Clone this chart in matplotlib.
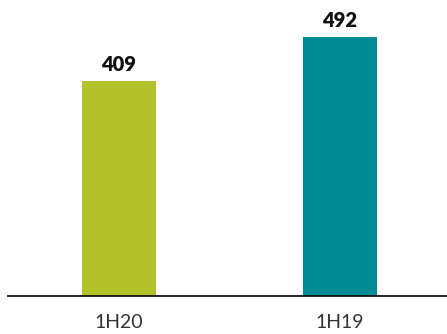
import matplotlib
matplotlib.use("Agg")
import matplotlib.pyplot as plt

categories = ["1H20", "1H19"]
values = [409, 492]
colors = ["#B3C22A", "#008C96"]

fig = plt.figure(figsize=(4.47, 3.34), dpi=100)
ax = fig.add_axes([8 / 447, 38 / 334, 439 / 447, 296 / 334])

x = list(range(len(categories)))
bars = ax.bar(x, values, width=0.335, color=colors)
for b, v in zip(bars, values):
    ax.text(b.get_x() + b.get_width() / 2, v + 13, str(v), ha="center", va="bottom",
            fontsize=14.5, fontweight="heavy", family="Lato", color="#111111")

ax.set_xlim(-0.502, 1.484)
ax.set_ylim(0, 562.5)
ax.set_xticks(x)
ax.set_xticklabels(categories, fontsize=14, family="Lato", color="#333333")
ax.tick_params(axis="x", length=0, pad=13)
ax.set_yticks([])
for s in ["top", "right", "left"]:
    ax.spines[s].set_visible(False)
ax.spines["bottom"].set_linewidth(1.3)
ax.spines["bottom"].set_color("#111111")

fig.savefig("out.png", dpi=100)
